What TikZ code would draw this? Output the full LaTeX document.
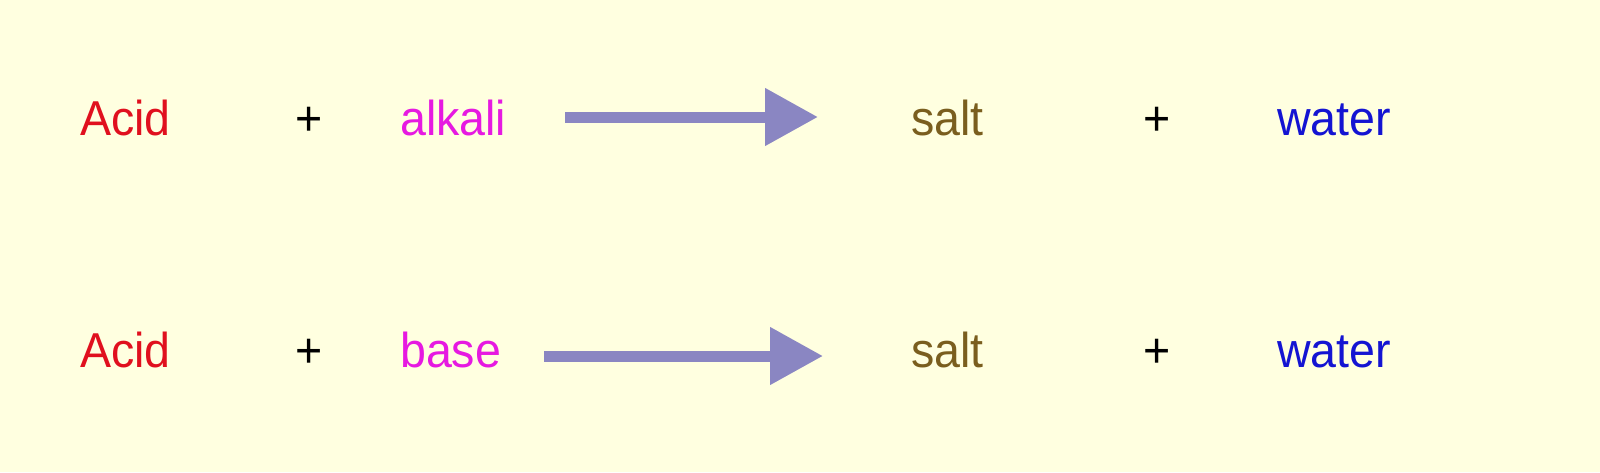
\documentclass[tikz,border=0pt]{standalone}
\usepackage{fontspec}
\setmainfont[FakeStretch=0.95]{Liberation Sans}
\usepackage{xcolor}
\usetikzlibrary{arrows.meta,backgrounds}

\definecolor{bgyellow}{HTML}{FFFFE0}
\definecolor{acidred}{HTML}{E0101E}
\definecolor{alkmag}{HTML}{E619E1}
\definecolor{saltbrown}{HTML}{7A5E1E}
\definecolor{waterblue}{HTML}{1414D2}
\definecolor{arrowblue}{HTML}{8A86C2}

\tikzset{
  word/.style={inner sep=0pt, anchor=base west, font=\fontsize{49}{59}\selectfont},
  plus/.style={inner sep=0pt, anchor=base, font=\fontsize{49}{59}\selectfont},
  reaction/.style={line width=11pt, draw=arrowblue, -{Triangle[length=53pt,width=55pt]}}
}

\begin{document}
\begin{tikzpicture}[x=1pt,y=-1pt]
\fill[bgyellow] (0,0) rectangle (1600,472);
\useasboundingbox (0,0) rectangle (1600,472);

% first reaction
\node[word, text=acidred] (Acid1) at (80,135) {Acid};
\node[plus] (PlusA1) at (309,135) {+};
\node[word, text=alkmag] (Alkali) at (400,135) {alkali};
\node[word, text=saltbrown] (Salt1) at (911,135) {salt};
\node[plus] (PlusB1) at (1157,135) {+};
\node[word, text=waterblue] (Water1) at (1277,135) {water};
\coordinate (From1) at (565,117);
\coordinate (To1) at (818,117);
\draw[reaction] (From1) -- (To1);

% second reaction
\node[word, text=acidred] (Acid2) at (80,367) {Acid};
\node[plus] (PlusA2) at (309,367) {+};
\node[word, text=alkmag] (Base) at (400,367) {base};
\node[word, text=saltbrown] (Salt2) at (911,367) {salt};
\node[plus] (PlusB2) at (1157,367) {+};
\node[word, text=waterblue] (Water2) at (1277,367) {water};
\coordinate (From2) at (544,356);
\coordinate (To2) at (823,356);
\draw[reaction] (From2) -- (To2);
\end{tikzpicture}
\end{document}
